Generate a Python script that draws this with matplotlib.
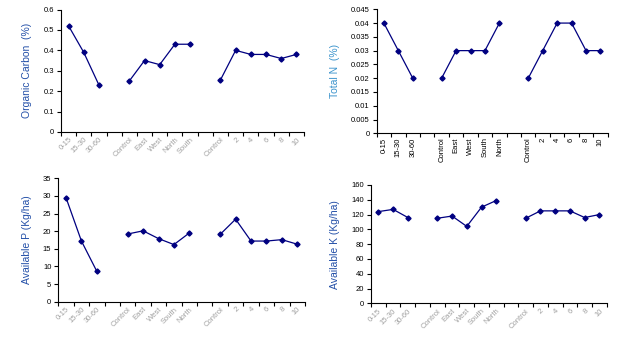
import numpy as np
import matplotlib
matplotlib.use("Agg")
import matplotlib.pyplot as plt
from matplotlib.ticker import FuncFormatter, MultipleLocator, FixedLocator

plt.rcParams['font.family'] = ['Liberation Sans', 'DejaVu Sans']

nan = np.nan
cats_oc = ["0-15", "15-30", "30-60", "", "Control", "East", "West", "North", "South",
           "", "Control", "2", "4", "6", "8", "10"]
cats_n = ["0-15", "15-30", "30-60", "", "Control", "East", "West", "South", "North",
          "", "Control", "2", "4", "6", "8", "10"]
cats_p = ["0-15", "15-30", "30-60", "", "Control", "East", "West", "South", "North",
          "", "Control", "2", "4", "6", "8", "10"]
cats_k = ["0-15", "15-30", "30-60", "", "Control", "East", "West", "South", "North",
          "", "Control", "2", "4", "6", "8", "10"]

organic_carbon = [0.52, 0.39, 0.23, nan, 0.25, 0.35, 0.33, 0.43, 0.43,
                  nan, 0.255, 0.40, 0.38, 0.38, 0.36, 0.38]
total_n = [0.04, 0.03, 0.02, nan, 0.02, 0.03, 0.03, 0.03, 0.04,
           nan, 0.02, 0.03, 0.04, 0.04, 0.03, 0.03]
avail_p = [29.5, 17.2, 8.6, nan, 19.2, 20.1, 17.9, 16.2, 19.5,
           nan, 19.1, 23.4, 17.2, 17.2, 17.6, 16.3]
avail_k = [124, 127, 116, nan, 115, 118, 104, 130, 139,
           nan, 115, 125, 125, 125, 116, 120]

panels = [
    dict(rect=[0.0985, 0.6152, 0.3926, 0.357], cats=cats_oc, vals=organic_carbon,
         ylim=(0, 0.6), ystep=0.1, ylabel="Organic Carbon  (%)", lcol="#2450a8",
         rot=45, tcol="#a0a0a0"),
    dict(rect=[0.6085, 0.6114, 0.3732, 0.3615], cats=cats_n, vals=total_n,
         ylim=(0, 0.045), ystep=0.005, ylabel="Total N  (%)", lcol="#3b93cc",
         rot=90, tcol="black"),
    dict(rect=[0.0942, 0.1204, 0.3985, 0.3598], cats=cats_p, vals=avail_p,
         ylim=(0, 35), ystep=5, ylabel="Available P (Kg/ha)", lcol="#2450a8",
         rot=45, tcol="#a0a0a0"),
    dict(rect=[0.5994, 0.1157, 0.3808, 0.345], cats=cats_k, vals=avail_k,
         ylim=(0, 160), ystep=20, ylabel="Available K (Kg/ha)", lcol="#2450a8",
         rot=45, tcol="#a0a0a0"),
]

fig = plt.figure(figsize=(6.19, 3.43), dpi=100)
for p in panels:
    ax = fig.add_axes(p["rect"])
    n = len(p["cats"])
    x = np.arange(n)
    ax.plot(x, p["vals"], color="#000080", lw=0.9, marker="D", ms=2.6,
            mfc="#000080", mec="#000080")
    ax.set_xlim(-0.5, n - 0.5)
    ax.set_ylim(*p["ylim"])
    ax.yaxis.set_major_locator(MultipleLocator(p["ystep"]))
    ax.yaxis.set_major_formatter(FuncFormatter(lambda v, pos: "%g" % round(v, 6)))
    ax.set_xticks(x)
    ax.xaxis.set_minor_locator(FixedLocator(np.arange(n + 1) - 0.5))
    ax.tick_params(axis="x", which="major", length=0, pad=3)
    ax.tick_params(axis="x", which="minor", length=3, width=0.8, direction="out")
    ax.tick_params(axis="y", length=3, width=0.8, direction="out", labelsize=5.5, pad=2)
    if p["rot"] == 45:
        ax.set_xticklabels(p["cats"], rotation=45, ha="right", rotation_mode="anchor",
                           fontsize=5.5, color=p["tcol"])
    else:
        ax.set_xticklabels(p["cats"], rotation=90, ha="center", va="top",
                           fontsize=5.5, color=p["tcol"])
    for s in ["top", "right"]:
        ax.spines[s].set_visible(False)
    for s in ["left", "bottom"]:
        ax.spines[s].set_linewidth(0.8)
    ax.set_ylabel(p["ylabel"], fontsize=7.5, color=p["lcol"], labelpad=8)

fig.savefig("out.png", dpi=100)
